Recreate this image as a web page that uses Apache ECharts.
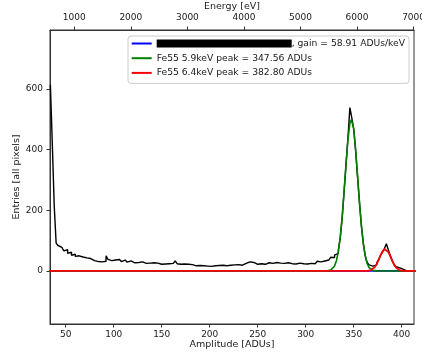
<!DOCTYPE html>
<html><head><meta charset="utf-8">
<script src="https://cdn.jsdelivr.net/npm/echarts@6/dist/echarts.min.js"></script>
<style>html,body{margin:0;padding:0;background:#fff}#c{width:422px;height:357px}</style>
</head><body><div id="c"></div>
<script>
// Histogram: bin left edges start at 34 ADU, bin width 2 ADU
const histStart = 34;
const histBinWidth = 2;
const histCounts = [
  614,420,215,92,84,78,80,66,70,58,
  62,52,55,48,50,44,46,40,43,38,
  41,36,34,38,31,33,30,35,32,50,
  38,34,40,36,33,38,34,31,36,32,
  29,33,30,27,31,28,26,30,27,25,
  29,26,24,27,23,26,24,22,25,23,
  21,24,22,25,21,33,24,22,20,23,
  19,22,18,21,19,17,20,18,21,17,
  19,16,18,15,19,17,20,18,22,19,
  20,17,22,19,24,20,26,21,23,19,
  22,25,21,30,33,28,24,22,20,24,
  19,22,18,27,21,25,20,28,22,26,
  21,25,20,27,22,24,19,23,21,26,
  22,24,20,23,21,25,22,24,28,32,
  30,35,33,38,36,42,45,44,52,58,
  70,110,175,262,352,440,539,505,470,395,
  310,225,150,92,50,28,20,16,18,20,
  27,38,52,62,74,90,70,52,35,22,
  14,10,8,5,3
];
// Fit curves
const blueFitX = [30, 420];
const blueFitY = [0, 0];
const greenFitX = [30,318,320,322,324,326,328,330,332,334,336,338,340,342,344,346,347.56,348,350,352,354,356,358,360,362,364,366,368,370,372,374,376,420];
const greenFitY = [0,0,0.1,0.35,1.0,2.8,7.0,16.1,33.7,64.5,112.9,180.6,264.5,354.3,434.2,486.6,500,498.9,467.9,401.4,315.1,226.2,148.5,89.2,49.0,24.6,11.3,4.8,1.8,0.6,0.2,0,0];
const redFitX = [30,364,366,368,370,372,374,376,378,380,382,382.8,384,386,388,390,392,394,396,398,400,402,404,420];
const redFitY = [0,0,1.1,2.8,6.4,12.9,23.1,36.7,51.8,65.0,72.3,73,71.5,62.7,48.8,33.8,20.7,11.3,5.5,2.4,0.9,0.3,0.1,0];
const ampTicks = [50,100,150,200,250,300,350,400];
const energyTicks = [1000,2000,3000,4000,5000,6000,7000];
const entryTicks = [0,200,400,600];
const seriesNames = ['gain', 'Fe55 5.9keV peak = 347.56 ADUs', 'Fe55 6.4keV peak = 382.80 ADUs'];

const histData = histCounts.map((v, i) => [histStart + i * histBinWidth, v]);
histData.push([histStart + histCounts.length * histBinWidth, histCounts[histCounts.length - 1]]);
const zip = (xs, ys) => xs.map((x, i) => [x, ys[i]]);

const FONT = 'DejaVu Sans';
const TXT = '#1a1a1a';
const AX = '#333';
const plain = v => String(v);
const chart = echarts.init(document.getElementById('c'), null, {renderer: 'canvas'});
chart.setOption({
  animation: false,
  backgroundColor: '#fff',
  grid: {left: 50, right: 8, top: 30, bottom: 33, outerBoundsMode: 'none', containLabel: false,
    show: true, borderColor: AX, borderWidth: 1, backgroundColor: 'transparent'},
  xAxis: [{
    type: 'value', position: 'bottom', min: 33.6, max: 412.8,
    name: 'Amplitude [ADUs]', nameLocation: 'middle', nameGap: 16, nameMoveOverlap: false,
    nameTextStyle: {fontFamily: FONT, fontSize: 9.5, color: TXT},
    axisLine: {onZero: false, lineStyle: {color: AX, width: 1}},
    axisTick: {customValues: ampTicks, length: 3.5, lineStyle: {color: AX}},
    axisLabel: {customValues: ampTicks, formatter: plain, margin: 6, fontFamily: FONT, fontSize: 9, color: TXT},
    splitLine: {show: false}
  }, {
    type: 'value', position: 'top', min: 570.4, max: 7007.3,
    name: 'Energy [eV]', nameLocation: 'middle', nameGap: 18.5, nameMoveOverlap: false,
    nameTextStyle: {fontFamily: FONT, fontSize: 9.5, color: TXT},
    axisLine: {onZero: false, lineStyle: {color: AX, width: 1}},
    axisTick: {customValues: energyTicks, length: 3.5, lineStyle: {color: AX}},
    axisLabel: {customValues: energyTicks, formatter: plain, margin: 8, fontFamily: FONT, fontSize: 9, color: TXT, hideOverlap: false},
    splitLine: {show: false}
  }],
  yAxis: {
    type: 'value', min: -175, max: 795,
    name: 'Entries [all pixels]', nameLocation: 'middle', nameGap: 28, nameMoveOverlap: false,
    nameTextStyle: {fontFamily: FONT, fontSize: 9.5, color: TXT},
    axisLine: {onZero: false, lineStyle: {color: AX, width: 1}},
    axisTick: {customValues: entryTicks, length: 3.5, lineStyle: {color: AX}},
    axisLabel: {customValues: entryTicks, formatter: plain, margin: 7, fontFamily: FONT, fontSize: 9, color: TXT},
    splitLine: {show: false}
  },
  legend: {
    orient: 'vertical', left: 128, top: 36,
    padding: [2, 4, 5, 3.7], itemGap: 3.7,
    itemWidth: 20, itemHeight: 2, icon: 'rect',
    backgroundColor: 'rgba(255,255,255,0.8)', borderColor: '#cccccc', borderWidth: 1, borderRadius: 3,
    data: seriesNames,
    textStyle: {fontFamily: FONT, fontSize: 9.2, color: TXT, lineHeight: 11,
      rich: {r: {backgroundColor: '#000', color: '#000', width: 135, height: 8, fontSize: 7, fontFamily: FONT}}},
    formatter: function (name) {
      if (name === 'gain') return '{r|Fe55 run}, gain = 58.91 ADUs/keV';
      return name;
    }
  },
  series: [{
    type: 'line', step: 'end', data: histData, showSymbol: false, silent: true,
    color: '#000', lineStyle: {color: '#000', width: 1.4}
  }, {
    name: seriesNames[0], type: 'line', data: zip(blueFitX, blueFitY), showSymbol: false, silent: true,
    color: '#0000ff', lineStyle: {color: '#0000ff', width: 1.8}
  }, {
    name: seriesNames[1], type: 'line', data: zip(greenFitX, greenFitY), showSymbol: false, silent: true,
    color: '#008000', lineStyle: {color: '#008000', width: 1.6}
  }, {
    name: seriesNames[2], type: 'line', data: zip(redFitX, redFitY), showSymbol: false, silent: true,
    color: '#ff0000', lineStyle: {color: '#ff0000', width: 1.8}
  }]
});
</script>
</body></html>
